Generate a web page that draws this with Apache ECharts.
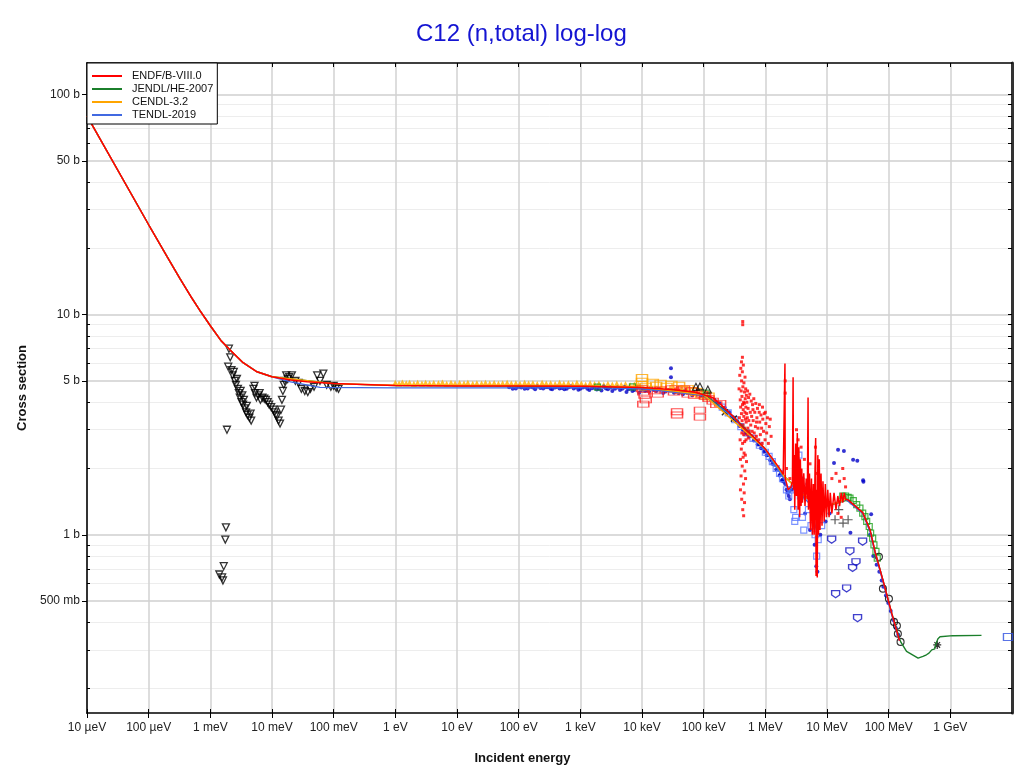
<!DOCTYPE html>
<html>
<head>
<meta charset="utf-8">
<script src="https://cdn.jsdelivr.net/npm/echarts@6/dist/echarts.min.js"></script>
<style>
html,body{margin:0;padding:0;background:#fff;}
#chart{width:1020px;height:773px;}
</style>
</head>
<body>
<div id="chart"></div>
<script>
// ---------- tick labels ----------
const xTickValues = [1e-5,1e-4,1e-3,1e-2,1e-1,1,10,100,1e3,1e4,1e5,1e6,1e7,1e8,1e9];
const xTickLabels = ['10 µeV','100 µeV','1 meV','10 meV','100 meV','1 eV','10 eV','100 eV','1 keV','10 keV','100 keV','1 MeV','10 MeV','100 MeV','1 GeV'];
const yMajorValues = [0.5,1,5,10,50,100];
const yMajorLabels = ['500 mb','1 b','5 b','10 b','50 b','100 b'];
const yMinorValues = [0.2,0.3,0.4,0.6,0.7,0.8,0.9,2,3,4,6,7,8,9,20,30,40,60,70,80,90];

// ---------- evaluated curves [E (eV), sigma (b)] ----------
// thermal region shared by all evaluations (they overlap there)
const thermalCurve = [[1e-5,80],[2.5e-5,50.8],[1e-4,25.6],[2e-4,18.3],[3.2e-4,14.6],[5e-4,11.9],[7e-4,10.3],[1e-3,8.9],[1.5e-3,7.6],[2.1e-3,6.9],[3.4e-3,6.05],[5.7e-3,5.5],[1e-2,5.22]];
const endfHigh = [[2e-2,5.05],[3.7e-2,4.95],[0.1,4.86],[0.4,4.8],[1,4.76],[10,4.74],[100,4.74],[1e3,4.73],[1e4,4.66],[3e4,4.57],[7e4,4.45],[1.4e5,4.2],[2e5,3.85],[3e5,3.45],[4.5e5,3.05],[6.3e5,2.8],[1e6,2.45],[1.33e6,2.2],[1.6e6,2.05],[1.8e6,1.95],[1.95e6,1.88],[2.05e6,1.86],[2.08e6,6.0],[2.1e6,1.8],[2.2e6,1.72],[2.35e6,1.6],[2.5e6,1.58],[2.6e6,1.65],[2.75e6,1.75],[2.82e6,5.2],[2.86e6,1.6],[2.95e6,2.3],[3.0e6,1.3],[3.1e6,2.6],[3.2e6,1.5],[3.3e6,2.9],[3.4e6,1.3],[3.5e6,2.5],[3.6e6,1.2],[3.7e6,2.2],[3.8e6,1.35],[3.9e6,2.0],[4.0e6,1.4],[4.2e6,1.9],[4.4e6,1.35],[4.6e6,1.8],[4.8e6,1.45],[4.93e6,4.2],[5.0e6,1.3],[5.2e6,1.9],[5.4e6,1.05],[5.6e6,1.8],[5.8e6,1.0],[6.0e6,1.7],[6.2e6,1.0],[6.4e6,2.0],[6.55e6,2.75],[6.65e6,0.65],[6.8e6,1.6],[6.95e6,0.64],[7.1e6,2.3],[7.3e6,1.0],[7.5e6,2.2],[7.7e6,1.05],[8.0e6,1.9],[8.3e6,1.1],[8.6e6,1.75],[9.0e6,1.15],[9.4e6,1.7],[9.8e6,1.2],[1.03e7,1.6],[1.08e7,1.2],[1.13e7,1.55],[1.2e7,1.25],[1.3e7,1.55],[1.4e7,1.3],[1.5e7,1.5],[1.6e7,1.35],[1.7e7,1.55],[1.8e7,1.4],[1.9e7,1.55],[2.0e7,1.45],[2.2e7,1.44],[3.8e7,1.26],[5.0e7,1.05],[6.0e7,0.84],[8.1e7,0.62],[1.12e8,0.44],[1.5e8,0.33]];
const jendlHigh = [[0.1,4.86],[1,4.76],[1e3,4.73],[1e4,4.66],[1e5,4.33],[3e5,3.45],[1e6,2.45],[2e6,1.85],[5e6,1.45],[1e7,1.35],[2.2e7,1.44],[3.8e7,1.26],[5e7,1.05],[6e7,0.84],[8.1e7,0.62],[1.12e8,0.44],[1.56e8,0.327],[1.95e8,0.295],[3.0e8,0.275],[3.6e8,0.28],[4.1e8,0.285],[4.5e8,0.29],[5.0e8,0.3],[5.3e8,0.305],[5.6e8,0.303],[5.8e8,0.318],[6.0e8,0.322],[6.3e8,0.337],[6.8e8,0.344],[1.1e9,0.348],[3.2e9,0.349]];
const cendlHigh = [[0.1,4.86],[1,4.78],[1e3,4.76],[1e4,4.68],[1e5,4.33],[1e6,2.45],[2e6,1.85],[5e6,1.45],[1e7,1.35],[2e7,1.45]];
const tendlHigh = [[2e-2,4.95],[6e-2,4.67],[1,4.65],[100,4.65],[1e3,4.66],[1e4,4.6],[1e5,4.3],[3e5,3.42],[1e6,2.42],[2e6,1.8],[2.5e6,1.55],[3e6,1.8],[4e6,1.5],[5e6,1.4],[6e6,1.2],[7e6,1.0],[8e6,1.3],[1e7,1.35],[2e7,1.45],[3.8e7,1.25],[5e7,1.03],[6e7,0.83],[8e7,0.62],[1.1e8,0.44],[1.5e8,0.33]];

// ---------- experimental points [E (eV), sigma (b)] ----------
const blackTriDown = [[2.0e-3,7.0],[2.1e-3,6.4],[1.95e-3,5.8],[2.2e-3,5.6],[2.3e-3,5.3],[2.4e-3,5.5],[2.5e-3,5.0],[2.6e-3,4.8],[2.7e-3,5.1],[2.8e-3,4.6],[2.9e-3,4.4],[3.0e-3,4.2],[3.1e-3,4.5],[3.2e-3,4.0],[3.3e-3,4.3],[3.4e-3,3.9],[3.5e-3,4.1],[3.6e-3,3.75],[3.8e-3,3.6],[3.9e-3,3.85],[4.0e-3,3.5],[4.3e-3,3.4],[4.5e-3,3.55],[4.6e-3,3.3],[5.0e-3,4.6],[5.2e-3,4.75],[5.3e-3,4.4],[5.6e-3,4.2],[6.0e-3,4.3],[6.3e-3,4.4],[6.5e-3,4.1],[7.0e-3,4.2],[7.5e-3,4.15],[8.0e-3,4.1],[8.5e-3,4.0],[9.0e-3,3.9],[9.7e-3,3.8],[1.05e-2,3.7],[1.1e-2,3.6],[1.15e-2,3.5],[1.2e-2,3.45],[1.28e-2,3.3],[1.35e-2,3.2],[1.4e-2,3.7],[1.45e-2,4.1],[1.5e-2,4.5],[1.55e-2,4.8],[1.6e-2,5.0],[1.7e-2,5.3],[1.8e-2,5.1],[1.9e-2,5.2],[2.1e-2,5.3],[2.4e-2,5.0],[2.7e-2,4.9],[3.0e-2,4.6],[3.4e-2,4.5],[3.8e-2,4.45],[4.2e-2,4.6],[4.8e-2,4.7],[5.4e-2,5.3],[6.0e-2,5.0],[6.8e-2,5.4],[7.7e-2,4.8],[9e-2,4.7],[0.1,4.75],[0.11,4.65],[0.12,4.6],[1.86e-3,3.0],[1.79e-3,1.08],[1.75e-3,0.95],[1.65e-3,0.72],[1.4e-3,0.66],[1.55e-3,0.64],[1.6e-3,0.62]];
const orangeTri = [[1,4.9],[1.15,4.86],[1.3,4.92],[1.5,4.88],[1.7,4.9],[2,4.85],[2.3,4.91],[2.7,4.87],[3.1,4.9],[3.6,4.86],[4.2,4.89],[5,4.88],[5.8,4.92],[6.8,4.85],[8,4.9],[9.3,4.87],[11,4.89],[13,4.86],[15,4.9],[18,4.85],[21,4.88],[25,4.86],[29,4.9],[34,4.87],[40,4.89],[47,4.85],[55,4.88],[65,4.9],[76,4.86],[90,4.88],[105,4.85],[125,4.9],[145,4.86],[170,4.88],[200,4.84],[240,4.9],[280,4.86],[330,4.88],[390,4.84],[460,4.9],[540,4.85],[640,4.88],[750,4.83],[880,4.9],[1040,4.86],[1220,4.82],[1440,4.88],[1700,4.84],[2000,4.86],[2400,4.8],[2800,4.85],[3300,4.82],[3900,4.86],[4600,4.8],[5400,4.84],[6400,4.78],[7500,4.82],[8800,4.8]];
const orangeSq = [[1.0e4,4.95],[1.0e4,4.8],[1.0e4,5.15],[1.15e4,4.7],[1.5e4,4.9],[1.7e4,4.75],[2.0e4,4.85],[2.5e4,4.7],[3.0e4,4.8],[3.5e4,4.6],[4.0e4,4.75],[4.5e4,4.55],[5.5e4,4.6],[6.5e4,4.5],[7.5e4,4.45],[9e4,4.35],[1.05e5,4.3],[1.2e5,4.25]];
const redSq = [[1.0e4,4.6],[1.05e4,4.45],[1.1e4,4.3],[1.15e4,4.1],[1.05e4,3.92],[1.6e4,4.5],[1.8e4,4.35],[2e4,4.55],[3.0e4,4.6],[3.3e4,4.45],[3.7e4,3.62],[3.7e4,3.5],[4.2e4,4.5],[4.8e4,4.6],[5.5e4,4.35],[6.3e4,4.5],[7e4,4.3],[8.7e4,3.68],[8.7e4,3.42],[9.5e4,4.35],[1.05e5,4.25],[1.2e5,4.15],[1.4e5,4.05],[1.6e5,3.9],[1.85e5,3.95]];
const blueDot = [[70,4.68],[80,4.6],[90,4.62],[100,4.7],[110,4.66],[125,4.6],[140,4.62],[155,4.7],[170,4.66],[185,4.58],[200,4.72],[225,4.64],[250,4.62],[275,4.68],[300,4.68],[330,4.6],[350,4.58],[390,4.66],[420,4.7],[460,4.62],[500,4.64],[550,4.58],[600,4.6],[650,4.68],[700,4.72],[780,4.62],[850,4.66],[930,4.56],[1000,4.6],[1100,4.66],[1200,4.7],[1300,4.6],[1400,4.55],[1550,4.63],[1700,4.65],[1850,4.57],[2000,4.6],[2200,4.52],[2400,4.72],[2600,4.62],[2800,4.58],[3050,4.66],[3300,4.5],[3650,4.6],[4000,4.66],[4400,4.55],[4800,4.6],[5200,4.68],[5600,4.45],[6000,4.58],[6500,4.62],[7000,4.5],[7500,4.55],[8200,4.64],[9000,4.42],[9700,4.55],[1.05e4,4.6],[1.12e4,4.5],[1.2e4,4.55],[1.3e4,4.47],[1.4e4,4.65],[1.55e4,4.55],[1.7e4,4.5],[1.85e4,4.6],[2.0e4,4.58],[2.2e4,4.4],[2.4e4,4.48],[2.7e4,4.55],[2.95e4,5.7],[2.95e4,5.2],[3.0e4,4.55],[3.3e4,4.42],[3.6e4,4.5],[3.9e4,4.4],[4.2e4,4.45],[4.6e4,4.35],[5e4,4.52],[5.5e4,4.4],[6e4,4.4],[6.5e4,4.3],[7e4,4.45],[7.5e4,4.35],[8e4,4.35],[9e4,4.28],[1e5,4.3],[1.1e5,4.2],[1.2e5,4.22],[1.3e5,4.1],[1.5e5,4.1],[1.6e5,3.98],[1.8e5,3.95],[2.0e5,3.75],[2.2e5,3.78],[2.4e5,3.6],[2.6e5,3.6],[2.8e5,3.45],[3e5,3.42],[3.2e5,3.3],[3.5e5,3.28],[3.8e5,3.12],[4e5,3.15],[4.3e5,3.0],[4.5e5,3.0],[4.8e5,2.9],[5e5,2.93],[5.5e5,2.8],[6e5,2.8],[6.5e5,2.68],[7e5,2.68],[7.5e5,2.57],[8e5,2.57],[8.5e5,2.47],[9e5,2.48],[9.5e5,2.38],[1e6,2.4],[1.05e6,2.3],[1.1e6,2.3],[1.2e6,2.18],[1.25e6,2.2],[1.3e6,2.1],[1.4e6,2.08],[1.5e6,1.98],[1.6e6,1.98],[1.7e6,1.86],[1.75e6,1.88],[1.85e6,1.76],[1.9e6,1.78],[2.0e6,1.74],[2.1e6,1.7],[2.2e6,1.6],[2.3e6,1.55],[2.4e6,1.5],[2.5e6,1.45],[2.7e6,1.6],[3e6,2.0],[3.3e6,2.2],[3.6e6,1.6],[4e6,1.8],[4.4e6,1.25],[4.8e6,1.7],[5.3e6,1.05],[5.8e6,1.3],[6.3e6,0.9],[6.7e6,0.72],[7e6,0.68],[7.3e6,1.3],[7.8e6,1.0],[8.5e6,1.3],[9.5e6,1.15],[1.1e7,1.25],[1.3e7,2.12],[1.51e7,2.43],[1.88e7,2.4],[2.65e7,2.19],[3.1e7,2.17],[3.9e7,1.74],[5.2e7,1.24],[2.4e7,1.02],[3.85e7,1.77],[4.98e7,1.0],[5.62e7,0.8],[6.38e7,0.73],[7.05e7,0.68],[7.7e7,0.62],[8.18e7,0.58],[9.04e7,0.53],[9.86e7,0.49],[1.08e8,0.45],[1.19e8,0.41],[1.31e8,0.377],[1.43e8,0.351]];
const blueSq = [[2.0e5,3.8],[2.5e5,3.58],[3.2e5,3.33],[4.0e5,3.1],[5.0e5,2.9],[6.3e5,2.74],[8.0e5,2.55],[1.0e6,2.37],[1.15e6,2.27],[1.3e6,2.15],[1.5e6,2.0],[1.7e6,1.9],[1.9e6,1.8],[2.2e6,1.6],[2.4e6,1.5],[2.6e6,1.6],[2.9e6,1.3],[3.0e6,1.15],[3.1e6,1.2],[3.2e6,1.8],[3.5e6,2.3],[3.7e6,1.5],[4.0e6,1.2],[4.2e6,1.05],[4.5e6,1.6],[5.0e6,1.3],[5.5e6,1.1],[6.0e6,1.5],[6.4e6,1.0],[6.8e6,0.8],[7.2e6,0.95],[7.6e6,1.5],[8.2e6,1.1],[9e6,1.4]];
const redDot = [
 [3.75e5,4.6],[3.8e5,3.4],[3.85e5,5.3],[3.9e5,2.7],[3.92e5,4.1],[3.95e5,2.2],[3.98e5,3.8],[4.0e5,5.7],[4.02e5,3.1],[4.04e5,1.85],[4.06e5,4.5],[4.08e5,2.45],[4.1e5,3.55],[4.12e5,5.0],[4.14e5,1.45],[4.16e5,2.9],[4.18e5,4.25],[4.2e5,3.3],[4.22e5,2.05],[4.24e5,5.5],[4.26e5,3.9],[4.28e5,2.6],[4.3e5,1.3],[4.32e5,4.7],[4.34e5,3.15],[4.36e5,2.25],[4.38e5,3.7],[4.4e5,5.9],[4.42e5,1.7],[4.44e5,4.0],[4.46e5,2.85],[4.48e5,3.45],[4.5e5,4.9],[4.52e5,2.35],[4.54e5,1.55],[4.56e5,3.95],[4.58e5,3.05],[4.6e5,4.45],[4.62e5,2.65],[4.64e5,1.95],[4.66e5,3.6],[4.68e5,5.2],[4.7e5,2.95],[4.72e5,4.15],[4.74e5,2.3],[4.76e5,3.35],[4.78e5,1.8],[4.8e5,4.6],[4.83e5,3.8],[4.86e5,2.7],[4.89e5,3.25],[4.92e5,4.3],[4.95e5,2.15],[4.98e5,3.55],[5.02e5,4.0],[5.06e5,2.85],[5.1e5,3.4],[5.15e5,4.5],[5.2e5,3.05],[5.25e5,3.75],[5.3e5,2.75],[5.35e5,4.2],[5.4e5,3.3],[5.45e5,2.95],
 [4.3e5,9.3],[4.3e5,9.0],[4.45e5,1.22],[4.25e5,6.4],[4.1e5,6.1],[4.6e5,1.4],[3.95e5,1.6],
 [5.6e5,4.35],[5.7e5,3.6],[5.8e5,3.15],[5.9e5,4.05],[6.0e5,3.45],[6.1e5,2.95],[6.2e5,3.9],[6.35e5,3.3],[6.5e5,4.15],[6.6e5,2.9],[6.75e5,3.6],[6.9e5,3.1],[7.0e5,3.95],[7.15e5,2.8],[7.3e5,3.4],[7.45e5,3.75],[7.6e5,3.05],[7.8e5,2.7],[7.95e5,3.6],[8.1e5,3.25],[8.3e5,2.85],[8.5e5,3.5],[8.7e5,3.05],[8.9e5,2.6],[9.1e5,3.35],[9.35e5,2.95],[9.6e5,3.55],[9.9e5,2.7],[1.02e6,3.2],[1.05e6,2.9],[1.08e6,3.4],[1.12e6,2.6],[1.16e6,3.1],[1.2e6,3.35],[1.24e6,2.8],[6.3e5,3.7],[7.2e5,3.25],[8.0e5,3.9],[9.0e5,3.8],[1.0e6,3.6],
 [2.1e6,5.0],[2.1e6,4.4],[2.2e6,2.0],[2.5e6,1.8],[3.2e6,3.0],[3.4e6,2.7],[3.8e6,2.5],[4.3e6,2.2],[5.3e6,2.1],[6.5e6,2.5],[7.0e6,1.9],[1.2e7,1.8],[1.4e7,1.9],[1.6e7,1.75],[1.8e7,2.0],[1.9e7,1.8],[2.0e7,1.65],[1.7e7,1.2],[1.5e7,1.25]];
const greenSq = [[1.8e7,1.5],[2.0e7,1.5],[2.2e7,1.48],[2.36e7,1.468],[2.67e7,1.43],[3.03e7,1.37],[3.42e7,1.32],[3.79e7,1.255],[4.12e7,1.21],[4.4e7,1.15],[4.84e7,1.09],[5.1e7,1.018],[5.5e7,0.966],[5.77e7,0.9],[6.22e7,0.84],[6.53e7,0.783],[1.9e3,4.68],[7e3,4.7],[1.1e5,4.4]];
const bluePent = [[1.19e7,0.95],[3.78e7,0.93],[2.35e7,0.84],[2.95e7,0.75],[2.6e7,0.706],[2.08e7,0.57],[1.38e7,0.537],[3.13e7,0.418]];
const lightBlueSq = [[8.6e9,0.343]];
const blackCirc = [[6.95e7,0.794],[8.07e7,0.569],[1.01e8,0.512],[1.22e8,0.402],[1.36e8,0.386],[1.41e8,0.355],[1.56e8,0.326]];
const blackX = [[2.21e5,3.6],[3.09e5,3.37]];
const blackTriUp = [[7.5e4,4.7],[8.7e4,4.72],[1.17e5,4.57]];
const blackPlus = [[1.35e7,1.17],[1.55e7,1.3],[1.82e7,1.13],[2.2e7,1.17]];
const blackStar = [[6.13e8,0.316]];

// ---------- chart ----------
const FONT = 'Liberation Sans, Arial, sans-serif';
const X_MIN = 1e-5, X_MAX = 1e10, Y_MIN = 0.155, Y_MAX = 139;

function xLabel(v){ const i = xTickValues.findIndex(t => Math.abs(Math.log10(t) - Math.log10(v)) < 1e-6); return i >= 0 ? xTickLabels[i] : ''; }
function yLabel(v){ const i = yMajorValues.findIndex(t => Math.abs(t - v) < 1e-9 * Math.max(1, t)); return i >= 0 ? yMajorLabels[i] : ''; }

function openScatter(name, data, symbol, size, color, bw, extra){
  return Object.assign({
    name: name, type: 'scatter', data: data, symbol: symbol, symbolSize: size,
    itemStyle: { color: 'rgba(0,0,0,0)', borderColor: color, borderWidth: bw || 1 },
    silent: true, z: 2
  }, extra || {});
}
function line(name, data, color, width){
  return { name: name, type: 'line', data: data, showSymbol: false, symbol: 'none',
    lineStyle: { color: color, width: width }, itemStyle: { color: color }, silent: true, z: 5 };
}

const chart = echarts.init(document.getElementById('chart'), null, { renderer: 'canvas' });
chart.setOption({
  animation: false,
  backgroundColor: '#fff',
  title: { text: 'C12 (n,total) log-log', left: 411, top: 17,
    textStyle: { color: '#1414d2', fontSize: 24, fontWeight: 'normal', fontFamily: FONT } },
  legend: {
    data: ['ENDF/B-VIII.0','JENDL/HE-2007','CENDL-3.2','TENDL-2019'],
    orient: 'vertical', left: 87, top: 63, selectedMode: false,
    icon: 'rect', itemWidth: 30, itemHeight: 2, itemGap: 1,
    padding: [7, 4, 3, 5], backgroundColor: '#fff', borderColor: '#000', borderWidth: 1, borderRadius: 0,
    textStyle: { fontSize: 11, color: '#111', fontFamily: FONT, lineHeight: 12, padding: [0,0,0,5] },
    z: 10
  },
  grid: { left: 87, right: 8, top: 63, bottom: 60, containLabel: false },
  xAxis: [
    { type: 'log', logBase: 10, min: X_MIN, max: X_MAX, position: 'bottom',
      name: 'Incident energy', nameLocation: 'middle', nameGap: 39,
      nameTextStyle: { fontSize: 13, fontWeight: 'bold', color: '#111', fontFamily: FONT, padding: [0, 54, 0, 0] },
      axisLine: { show: true, lineStyle: { color: '#000', width: 1.5 } },
      axisTick: { show: true, customValues: xTickValues, length: 5, inside: false, lineStyle: { color: '#000', width: 1 } },
      axisLabel: { show: true, customValues: xTickValues, formatter: xLabel, fontSize: 12, color: '#222', fontFamily: FONT, margin: 9 },
      splitLine: { show: true, lineStyle: { color: '#d2d2d2', width: 1.5 } },
      minorTick: { show: false }, minorSplitLine: { show: false } },
    { type: 'log', logBase: 10, min: X_MIN, max: X_MAX, position: 'top',
      axisLine: { show: true, lineStyle: { color: '#000', width: 1.5 } },
      axisTick: { show: true, customValues: xTickValues, length: 4, inside: true, lineStyle: { color: '#000' } },
      axisLabel: { show: false }, splitLine: { show: false } },
    { type: 'log', logBase: 10, min: X_MIN, max: X_MAX, position: 'bottom',
      axisLine: { show: false },
      axisTick: { show: true, customValues: xTickValues, length: 4, inside: true, lineStyle: { color: '#000' } },
      axisLabel: { show: false }, splitLine: { show: false } }
  ],
  yAxis: [
    { type: 'log', logBase: 10, min: Y_MIN, max: Y_MAX, position: 'left',
      name: 'Cross section', nameLocation: 'middle', nameGap: 52, nameRotate: 90,
      nameTextStyle: { fontSize: 13, fontWeight: 'bold', color: '#111', fontFamily: FONT },
      axisLine: { show: true, lineStyle: { color: '#333', width: 2 } },
      axisTick: { show: true, customValues: yMajorValues, length: 5, inside: false, lineStyle: { color: '#000' } },
      axisLabel: { show: true, customValues: yMajorValues, formatter: yLabel, fontSize: 12, color: '#222', fontFamily: FONT, margin: 7 },
      splitLine: { show: true, lineStyle: { color: '#cfcfcf', width: 1.5 } } },
    { type: 'log', logBase: 10, min: Y_MIN, max: Y_MAX, position: 'left',
      axisLine: { show: false },
      axisTick: { show: true, customValues: yMinorValues, length: 3, inside: true, lineStyle: { color: '#000' } },
      axisLabel: { show: false },
      splitLine: { show: true, lineStyle: { color: '#ededed', width: 1 } } },
    { type: 'log', logBase: 10, min: Y_MIN, max: Y_MAX, position: 'right',
      axisLine: { show: true, lineStyle: { color: '#333', width: 3 } },
      axisTick: { show: true, customValues: yMajorValues.concat(yMinorValues), length: 4, inside: true, lineStyle: { color: '#000' } },
      axisLabel: { show: false }, splitLine: { show: false } }
  ],
  series: [
    openScatter('exp-a', blackTriDown, 'triangle', 7, '#000', 1.3, { symbolRotate: 180 }),
    { name: 'exp-b', type: 'scatter', data: orangeTri, symbol: 'triangle', symbolSize: 6, itemStyle: { color: '#ffb000' }, silent: true, z: 2 },
    { name: 'exp-c', type: 'scatter', data: blueDot, symbol: 'circle', symbolSize: 4, itemStyle: { color: '#0000c8' }, silent: true, z: 2 },
    openScatter('exp-d', blueSq, 'rect', 6, '#5a78ff', 1.2),
    openScatter('exp-e', orangeSq, 'rect', [11, 7], '#ffa500', 1.2),
    openScatter('exp-f', redSq, 'rect', [11, 6], '#ff2020', 1.1),
    { name: 'exp-g', type: 'scatter', data: redDot, symbol: 'rect', symbolSize: 3, itemStyle: { color: '#ff0000' }, silent: true, z: 3 },
    openScatter('exp-h', greenSq, 'rect', 6, '#1aa01a', 1.2),
    openScatter('exp-i', bluePent, 'path://M0,0L10,0L10,6L5,10L0,6Z', [8, 7], '#1010c0', 1.3),
    openScatter('exp-j', lightBlueSq, 'rect', [9, 7], '#3050e0', 1.2),
    openScatter('exp-k', blackCirc, 'circle', 7, '#000', 1.1),
    openScatter('exp-l', blackTriUp, 'triangle', 7, '#000', 1.1),
    openScatter('exp-m', blackX, 'path://M0,0L10,10M10,0L0,10', 6, '#000', 1.5),
    openScatter('exp-n', blackPlus, 'path://M5,0L5,10M0,5L10,5', 9, '#333', 1.2),
    openScatter('exp-o', blackStar, 'path://M5,0L5,10M0,5L10,5M1.5,1.5L8.5,8.5M8.5,1.5L1.5,8.5', 8, '#000', 1.3),
    line('JENDL/HE-2007', thermalCurve.concat(jendlHigh), '#1b7f2b', 1.4),
    line('TENDL-2019', thermalCurve.concat(tendlHigh), '#4169e1', 1.4),
    line('CENDL-3.2', thermalCurve.concat(cendlHigh), '#ffa500', 1.4),
    line('ENDF/B-VIII.0', thermalCurve.concat(endfHigh), '#ff0000', 1.5)
  ]
});
</script>
</body>
</html>
